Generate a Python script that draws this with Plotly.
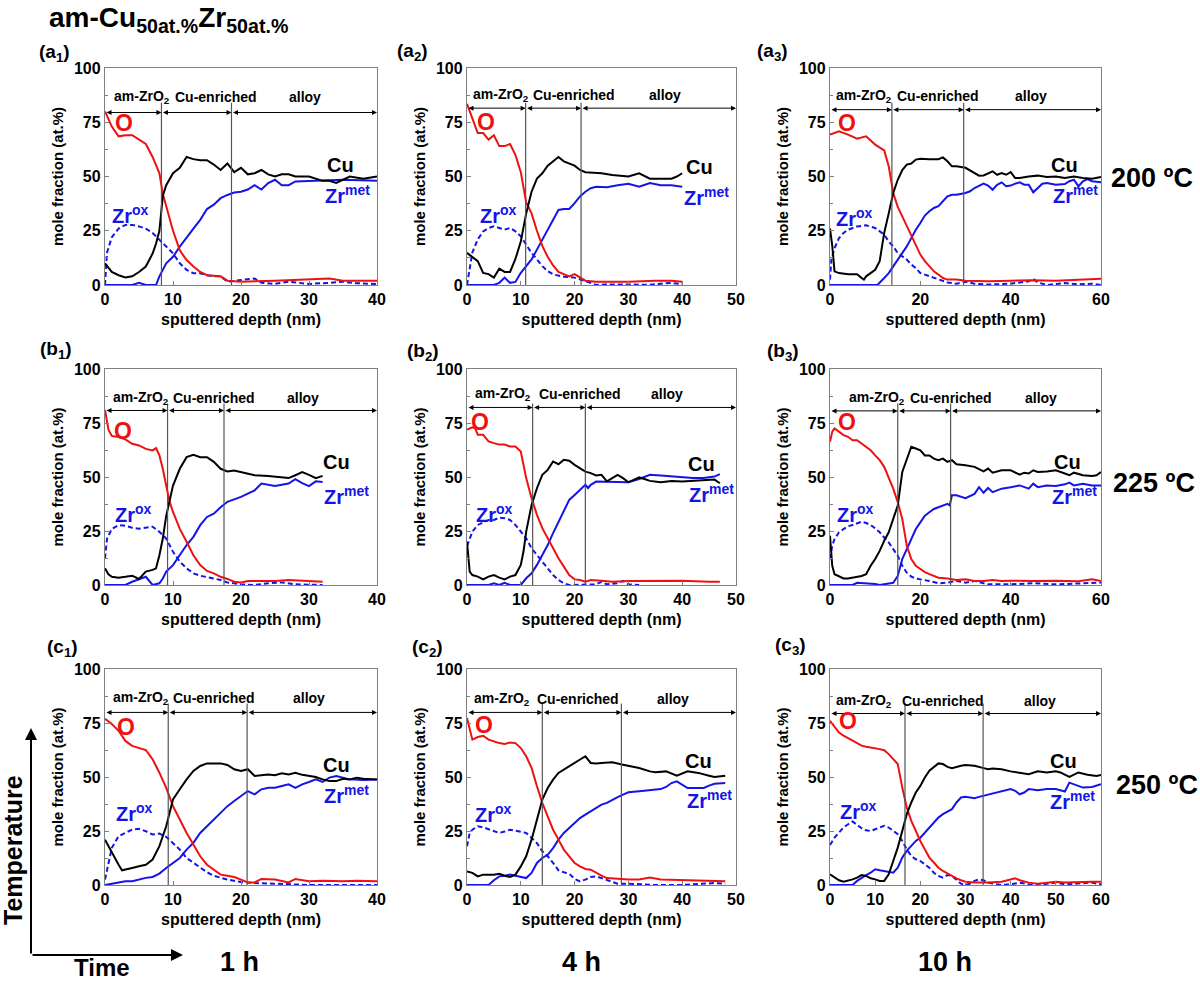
import plotly.graph_objects as go

# ---------------- DATA ----------------
# Panel a1 (200 C, 1 h)
A1_O_X = [0,1,2,3,4,5,6,7,8,8.5,9,10,11,12,13,14,15,17,18,20,25,30,33,35,40]
A1_O_Y = [80,73,68.5,69,69,67,65,59,51.5,42,36,25,16,11.5,8.5,6,4.5,4,2,1.5,2,2.5,3,2,2]
A1_CU_X = [0,1,2,3,4,5,6,7,7.5,8,8.5,9,10,11,12,13,14,15,16,17,18,19,20,21,22,23,24,25,26,27,28,30,32,33,34,35,36,38,40]
A1_CU_Y = [10,6,4.5,3.5,4,6,8.5,14.5,19,25,41,46,51.5,54,59,58,57.5,57.5,55.5,53,56,52,54,51,51.5,53,51,50,51,51,50,50,48,48,47,48.5,50,49,50]
A1_ZM_X = [0,4,5,6,7.5,8,9,10,11,12,13,14,15,16,17,18,19,20,21,22,23,24,25,26,27,28,30,35,40]
A1_ZM_Y = [0,0,1,0,0,4,10,13,17.7,22,26,30,35,37,40,41.5,42.6,43,44,46,44,47,48.5,46,46,47.7,48,48.5,48]
A1_ZO_X = [0,0.3,1,2,3,4,5,6,7,8,9,10,11,12,13,14,15,16,17,18,20,22,23,25,27,30,33,35,37,40]
A1_ZO_Y = [0,15,22,26,27.7,27.7,27,26,24,21,17.7,14.6,10,7,5.4,5.4,4.5,4,4,1.5,2.3,3,1,0.5,1.5,0.5,1,1.5,0.8,0.5]
A1_BOUNDS = [8.3, 18.6]

# Panel a2 (200 C, 4 h)
A2_O_X = [0,1,2,3,4,5,6,7,8,9,10,11,12,13,14,15,16,17,18,19,20,21,22,24,30,35,38,40]
A2_O_Y = [83.5,76.6,70,70,67,69,64,64,65,60,52,38,33,25,18,13,9,6,5,4,5,3.5,2,1.5,1.5,2,2,1.5]
A2_CU_X = [0,1,2,3,4,5,6,7,8,9,10,11,12,13,14,15,16,17,18,19,20,21,22,25,27,30,32,34,38,39,40]
A2_CU_Y = [14.8,13,11,5.6,5,3.4,7.5,6,6,12,20,33,43,49,51.5,55,57,59,57,56,55,53,52,51.5,50.7,50,51.5,49,49,50,51.5]
A2_ZM_X = [0,5,6,7,8,9,10,11,12,13,14,15,16,17,18,19,20,21,22,23,24,26,28,30,32,34,36,38,40]
A2_ZM_Y = [0,0,1,3.4,1,1.4,5.6,8.7,11.8,16.3,21,25.5,30,34.6,35,35,37.7,40.8,43,44.6,45.3,45,46,46.6,45.3,47,46,46,45.3]
A2_ZO_X = [0,0.5,1,2,3,4,5,6,7,8,9,10,11,12,13,14,15,16,18,20,22,24,26,30,34,38,40]
A2_ZO_Y = [0,8.7,15,21,24.7,26.3,27,26.3,25.5,26.3,24.7,22.4,18.6,14.8,11.8,8.7,6.4,4.9,3.8,3.4,1.8,0,0.3,0.3,0.1,1,0.3]
A2_BOUNDS = [10.9, 21.2]

# Panel a3 (200 C, 10 h)
A3_O_X = [0,2,4,6,8,10,12,13,14,15,16,17,18,19,20,21,22,23,24,25,26,28,30,35,40,45,50,55,60]
A3_O_Y = [69.3,70.8,69.3,67.4,68.5,64.7,62,54.7,42.4,36,31.6,27,22.4,17.8,14,11,8.6,6.3,4.8,3.2,2.5,2.5,2,1.7,2,2.2,2,2.5,2.9]
A3_CU_X = [0,0.5,1,2,4,6,7,7.5,8,10,11,12,13,14,15,16,17,18,19,20,22,24,25,26,27,28,30,32,33,34,35,36,37,38,39,40,41,42,44,46,48,50,52,54,56,58,60]
A3_CU_Y = [26,18,6.3,5.5,5,5,3.2,2.5,4,7,11,24,33,42.4,48.5,53,55.5,56,57.8,58.2,58,58,58.8,57,54.7,54.7,54,51.6,50.4,50.5,51.6,52.4,50.8,51.6,50.8,52,49.3,49.3,50,50.4,49.8,50,49.3,50,49.3,49,49.8]
A3_ZM_X = [0,10.5,12,13,14,15,16,17,18,19,20,21,22,23,24,25,26,27,28,30,31,32,33,34,35,36,37,38,39,40,41,42,43,44,45,46,47,48,50,52,53,54,55,56,57,58,60]
A3_ZM_Y = [0,0,3.2,5.5,8.6,11.7,14.7,17.8,21.6,25.5,28.6,32,34,35.5,36.3,38.5,40.9,41.6,41.6,42.4,43.2,44.7,45.8,46.7,45.8,43.9,46.2,47.3,45.5,45.8,46.7,47.3,46.2,46.2,42.7,44.7,46.7,47,46.2,46.5,47.8,48.5,45.5,47.8,48.8,47.8,47.3]
A3_ZO_X = [0,0.3,1,2,3,4,6,8,10,11,12,13,14,15,16,17,18,19,20,22,24,26,28,30,32,35,40,44,45,46,48,50,52,55,58,60]
A3_ZO_Y = [2.5,11.7,17,21.6,24,25.5,27,27.5,26.3,24.7,23.2,20,17.8,14.7,13.2,11.7,9.4,7.8,5.5,4,2.5,1.2,0.6,1.5,0.6,0.2,0.6,1.7,2.8,1.2,0,0.6,0.9,0.3,0.6,0]
A3_BOUNDS = [13.7, 29.6]

# Panel b1 (225 C, 1 h)
B1_O_X = [0,0.5,1,2,3,4,5,6,7,7.5,8,8.5,9,9.5,10,11,12,13,14,15,16,17,18,19,20,21,23,25,27,28,30,32]
B1_O_Y = [81,72,69,68.5,67.4,65.4,64.6,63,62.3,63.4,60,53.8,46,38.5,33.8,26,20,13.8,9.2,6.5,5.4,3.8,2.8,1.5,1.2,1.8,1.8,1.8,2.3,2.2,1.8,1.5]
B1_CU_X = [0,0.5,1,2,3,4,5,5.5,6,7,7.5,8,8.5,9,9.5,10,11,12,13,14,15,16,17,18,19,20,22,24,26,27,28,29,30,31,32]
B1_CU_Y = [7.7,5,3.8,3.4,3.8,4.3,2.8,4.6,6.2,7,7.7,13.8,21.5,32,38.5,46,53.8,59.2,60.3,59.2,59.2,57,53.8,52.6,53,52.3,50.8,50.5,50,49.5,50.8,52.3,51,49.5,50.5]
B1_ZM_X = [0,3,4,5,6,7,8,8.5,9,10,11,12,13,14,15,16,17,18,20,22,23,25,27,28,29,30,31,32]
B1_ZM_Y = [0,0,1.5,2.8,3.8,0,0.8,3,6.2,9.2,13.8,18.5,22.3,27.7,31.5,33,36,38.5,40.8,43.8,47,45.8,47,49,47.2,45.8,48,47.7]
B1_ZO_X = [0,0.3,1,2,3,4,5,6,7,8,9,10,11,12,13,14,15,16,17,18,20,22,24,26,28,30,32]
B1_ZO_Y = [12.3,21.5,26,27.7,27.4,26.5,26,26.5,27,24.6,21.5,15.4,10.8,7.7,5.4,4.3,3.8,3,2.3,1.2,0.3,0,0.8,1.2,0.3,0,0]
B1_BOUNDS = [9.2, 17.5]

# Panel b2 (225 C, 4 h)
B2_O_X = [0,1,1.5,2,3,4,5,6,7,8,9,10,10.5,11,12,13,14,15,16,17,18,19,20,21,22,23,25,27,30,35,40,45,47]
B2_O_Y = [71.9,73,72.6,69.6,69.6,66.5,65.7,65,65,64.1,64.1,61.8,55.6,49.5,40.2,32.5,26.3,21.6,17,12.4,8.5,4.6,2.6,2.3,1.5,2.3,2,1.5,1.9,1.9,2,1.5,1.5]
B2_CU_X = [0,0.5,1,2,3,4,5,6,7,8,9,10,10.5,11,12,13,14,15,16,17,18,19,20,21,22,23,24,25,26,27,28,29,30,31,32,33,34,36,38,40,42,44,46,47]
B2_CU_Y = [20,6.2,4.6,3.9,2.6,3.9,4.6,3.4,2.6,3.9,4.6,9.3,15.5,24.7,37,44.8,51,53.3,57.2,55.9,58,57.5,55.6,54,52.5,51.8,50.7,51,48,49.5,51,49.5,47.6,48.7,49.8,49.1,48.2,47.6,48.2,47.9,48.2,48.7,48.8,47.1]
B2_ZM_X = [0,4,5,6,7,8,10,11,12,13,14,15,16,17,18,19,20,21,22,22.5,23,24,26,28,30,32,34,36,38,40,42,44,46,47]
B2_ZM_Y = [0,0,0.8,0,1,0,0,3.1,5.4,9.3,13.9,18.5,24,29.4,34,39.4,41.7,44,46.4,44.8,46.4,47.9,47.9,47.9,47.6,49.1,51,50.7,50.2,49.9,49.5,49.5,50.2,51.3]
B2_ZO_X = [0,0.5,1,2,3,4,5,6,7,8,9,10,11,12,13,14,15,16,17,18,19,22,24,25,26,28,29,30,32]
B2_ZO_Y = [18,21.6,24.7,27.8,29,30.1,30.1,31.2,30.9,30.1,27.8,24.7,21.6,17,13.9,10.8,7.7,4.6,2.3,0.8,0,0,0.3,1.5,0.3,0.8,1.9,0.3,0]
B2_BOUNDS = [12.2, 22.0]

# Panel b3 (225 C, 10 h)
B3_O_X = [0,0.5,1,2,3,4,5,6,7,8,9,10,11,12,13,14,15,16,17,18,19,20,21,22,24,26,28,30,32,34,36,38,40,45,50,55,58,60]
B3_O_Y = [66.3,71,72.5,71,69.4,68.6,67,67,65.5,64,62.4,60,57.8,54.7,50,44.6,38.4,30.6,18.2,12,8.9,7.3,6,5,3.4,3,2.3,2.6,1.9,1.9,2.3,1.9,2,1.9,2,1.7,2.6,1.9]
B3_CU_X = [0,0.5,1,2,3,4,5,6,7,8,9,10,11,12,13,14,15,16,17,18,19,20,21,22,23,24,25,26,27,28,30,32,34,35,36,38,40,42,43,44,45,46,48,50,52,53,54,56,58,59,60]
B3_CU_Y = [22.8,8.9,5,3.9,3,3,3.4,3.9,4.2,5,8.9,12,15.8,20.5,24.4,30.6,36.8,52.3,58.5,64,63.2,62.4,60,60,58.5,57.8,58.5,57,57.8,55.9,55.4,54.7,52.6,53.9,52,53.1,53.1,51.1,52,51.6,53.1,52.3,52.6,53.1,51.6,50.8,52,50.8,50.5,50.8,52.3]
B3_ZM_X = [0,5,6,10,11,14,15,16,17,18,19,20,21,22,23,24,25,26,26.5,27,28,30,32,33,34,35,36,38,40,42,44,45,46,48,50,52,53,54,56,58,60]
B3_ZM_Y = [0,0,1,0.5,0,1,4.2,12,16.6,21.3,25.9,29,32.1,33.7,35.2,36,36.8,37.6,36.8,41.5,41.5,40.2,42.2,45.3,42.7,44.9,43,44.6,45.3,46.1,44.6,46.9,45.3,46.1,45.8,46.6,47.4,46.1,46.9,46.1,46.1]
B3_ZO_X = [0,0.5,1,2,3,4,5,6,7,8,9,10,11,12,13,14,15,16,17,18,19,20,22,24,26,28,30,32,35,40,45,50,55,60]
B3_ZO_Y = [12,18.2,21.3,24.4,25.9,27.2,27.8,28.7,29.3,28.7,27.8,26.2,24.4,22,19.7,16.6,13.5,8.9,5.7,3.9,3,2.6,1.9,0.8,1.1,1.9,1.1,1.9,0.3,0.3,0.8,0.3,0.6,1.1]
B3_BOUNDS = [15.0, 26.7]

# Panel c1 (250 C, 1 h)
C1_O_X = [0,1,2,3,4,5,6,7,8,9,10,11,12,13,14,15,16,17,18,19,20,21,22,23,25,27,28,30,32,35,37,40]
C1_O_Y = [77,74.5,71.4,66.7,64.4,63.6,62.5,58.2,52,45,36.5,30.3,24.1,18.7,13.3,9.4,7.1,4.8,4.3,3.7,2.5,1.2,1.2,2.8,2.5,1.2,2.8,1.7,2,1.7,2,1.7]
C1_CU_X = [0,1,2,2.5,3,4,5,6,7,8,9,9.5,10,11,12,13,14,15,17,18,19,20,21,22,23,24,25,26,27,28,29,30,31,32,33,34,35,36,37,38,40]
C1_CU_Y = [21,14.9,9.4,6.8,7.1,7.9,8.7,9.4,11.8,18,27.2,33.4,39.6,44.3,48.9,52.8,55.1,56.3,56.3,55.6,53.6,52.8,53.6,50.5,50.8,51.2,50.8,51.7,51.2,52,51,50.5,50,48.9,48.1,48.1,49.2,48.9,49.7,49.2,48.9]
C1_ZM_X = [0,1,2,3,4,5,6,7,8,9,10,11,12,13,14,15,16,17,18,19,20,21,22,23,24,25,26,27,28,29,30,31,32,33,34,35,36,38,40]
C1_ZM_Y = [0,0.6,1.2,1.7,1.7,2.5,3.3,3.7,5.3,7.9,10.2,12.5,16.4,19.5,24.1,27.2,30.3,33.4,36.5,38.9,41.2,43.5,42,44.3,45,45,45.8,46.6,45,46.6,47.7,48.9,47.7,49.7,50.5,49.7,48.9,48.6,48.9]
C1_ZO_X = [0,0.5,1,2,3,4,5,6,7,8,9,10,11,12,13,14,15,16,17,18,20,22,25,28,30,40]
C1_ZO_Y = [2.5,10.2,17.2,22.6,24.1,25.7,26,24.9,23.4,23.8,22.3,19.5,16.4,12.5,10.2,7.9,5.9,4.3,3.3,2.5,1.4,0.9,0.6,0.2,0,0]
C1_BOUNDS = [9.3, 20.9]

# Panel c2 (250 C, 4 h)
C2_O_X = [0,1,2,3,4,5,6,7,8,9,10,11,12,13,14,15,16,17,18,19,20,21,22,23,24,25,26,28,30,32,34,36,40,44,48]
C2_O_Y = [77.3,67.3,68.5,69.1,67.3,66.5,65.7,65.3,66,65.7,63.4,59.6,54.2,45.7,38,31.8,25.6,21,16.4,13.3,10.2,8.6,7.4,7.1,5.6,4.3,3.2,2.8,2.5,2.5,3.5,2.5,2.2,2,1.7]
C2_CU_X = [0,1,2,3,5,6,7,8,9,10,11,12,13,14,15,16,17,18,19,20,21,22,23,24,25,27,29,30,32,34,35,37,39,41,43,45,46,48]
C2_CU_Y = [6.3,5.6,4,4.8,4.8,5.2,4.3,3.7,4.8,8.6,13.3,21,30.2,39.5,44.9,48.8,51.9,53.4,54.9,56.5,58,59.6,56.5,56.2,56.5,56.8,55.7,55.2,54.2,52.6,52.2,52.6,50.6,52.6,51.9,50.6,50,50.6]
C2_ZM_X = [0,4,5,6,7,8,9,10,11,12,13,14,15,16,17,18,19,20,21,22,23,24,25,26,27,28,29,30,32,34,36,37,38,39,40,41,42,44,45,46,48]
C2_ZM_Y = [0,0,2.2,4,4.3,4.8,4.3,3.7,3.2,5.6,10.2,12.5,14,17.1,21,24.1,26.4,28.7,31,32.6,34.1,35.6,37.2,38,39.5,40.7,41.8,42.9,43.4,43.8,44.4,45.4,47.2,48,46.5,44.9,44.9,44.9,46,46.9,47.2]
C2_ZO_X = [0,0.5,1,2,3,4,5,6,7,8,9,10,11,12,13,14,15,16,17,18,19,20,21,22,23,24,25,26,28,30,32,35,40,46,48]
C2_ZO_Y = [17.9,24.1,25.6,27.2,26.7,25.9,24.8,24.1,24.8,25.6,25.2,24.8,24.1,21.8,19.4,15.6,13.3,10.2,6.8,5.9,5.2,2.8,1.7,2.5,3.7,4,3.2,2.5,0.6,0.6,0.3,0,0,0.9,0.6]
C2_BOUNDS = [14.0, 28.7]

# Panel c3 (250 C, 10 h)
C3_O_X = [0,1,2,3,4,5,6,7,8,9,10,11,12,13,14,15,16,17,18,19,20,21,22,23,24,25,26,27,28,29,30,32,35,38,40,41,42,44,46,48,50,52,55,58,60]
C3_O_Y = [76,73,70.6,69.1,68,66.8,65.5,64.5,64,63.7,63.4,62.9,62.4,60.6,58.3,56,45.1,35.9,29.7,25,20.4,16.5,12.7,10.4,8,6.5,5.3,4.2,3.1,2.2,1.5,1.1,1.1,1.5,2.6,3.1,2.2,1.1,0.6,1.1,1.5,1.1,1.4,1.5,1.5]
C3_CU_X = [0,1,2,3,4,5,6,7,8,9,10,11,12,13,14,15,16,17,18,19,20,21,22,23,24,25,26,27,28,29,30,32,34,35,36,38,40,42,44,46,48,50,51,53,55,57,59,60]
C3_CU_Y = [4.9,3.7,2.2,1.5,1.9,2.6,3.4,4.6,4.2,3.1,2.6,1.9,1.9,4.9,11.1,17.3,25,32.8,38.2,42.8,45.9,49.8,52.9,54.4,56.3,56,54.7,54.1,54.7,55.2,55.5,55.2,54.1,53.6,53.9,53.6,52.6,52.1,51.3,52.6,52.1,52.6,52.1,50.1,52.1,51,50.5,50.9]
C3_ZM_X = [0,5,6,7,8,9,10,11,12,13,14,15,16,17,18,19,20,21,22,23,24,25,26,27,28,29,30,31,32,33,34,35,36,38,40,41,42,43,44,46,48,50,52,53,54,56,58,60]
C3_ZM_Y = [0,0,1.9,3.4,4.6,5.7,7.3,6.8,6.5,6.2,5.7,8,12.7,15.8,18.1,20.4,21.9,24.3,26.6,28.9,31.2,32.8,34,35.1,38.2,40.5,40.8,40.5,40.2,40.8,41.3,42,42.3,43.3,44.4,43.6,42,42.8,44.4,43.9,44.4,44.4,43.3,47.4,46.7,45.1,45.4,46.7]
C3_ZO_X = [0,1,2,3,4,5,6,7,8,9,10,11,12,13,14,15,16,17,18,19,20,21,22,23,24,25,26,27,28,29,30,31,32,33,34,35,37,38,40,42,44,46,48,50,52,55,58,60]
C3_ZO_Y = [18.5,21.9,24.3,26.6,28.1,29.4,27.8,26.3,25.3,25,25.8,26.6,27.4,26.6,25,23.5,20.4,16.5,13.4,11.9,11.1,9.6,8,5.7,4.2,3.4,4.6,4.2,2.6,0.6,0,0.6,1.9,2.6,2.2,1.1,0.3,0,0.3,1.1,0.3,0,0.6,1.1,0.3,0.6,1.1,0.3]
C3_BOUNDS = [16.6, 33.9]

X_MAX = [40, 50, 60, 40, 50, 60, 40, 50, 60]
X_DTICK = [10, 10, 20, 10, 10, 20, 10, 10, 10]
PANEL_LABELS = ["(a<sub>1</sub>)", "(a<sub>2</sub>)", "(a<sub>3</sub>)",
                "(b<sub>1</sub>)", "(b<sub>2</sub>)", "(b<sub>3</sub>)",
                "(c<sub>1</sub>)", "(c<sub>2</sub>)", "(c<sub>3</sub>)"]
TEMPS = ["200 ºC", "225 ºC", "250 ºC"]
TIMES = ["1 h", "4 h", "10 h"]
REGIONS = ["am-ZrO<sub>2</sub>", "Cu-enriched", "alloy"]

# ---------------- LAYOUT HELPERS ----------------
W, H = 1200, 982
COLS_PX = [(105, 377), (467, 736), (830, 1101)]
ROWS_PX = [(68, 285), (369, 585), (669, 885)]

STYLE = [
    dict(rt=[5.5, 16.3, 29.4], ry=86.5, ay=79.5, O=(2.8, 74.6), Cu=(34.7, 55.4), Zm=(35.7, 41.5), Zo=(3.8, 32.3)),
    dict(rt=[6.4, 19.9, 36.8], ry=87.6, ay=81.5, O=(3.6, 75), Cu=(43.2, 54.5), Zm=(44.6, 40.8), Zo=(5.8, 32.4)),
    dict(rt=[7.5, 24.0, 44.5], ry=87.0, ay=80.8, O=(3.7, 74.6), Cu=(52.0, 55.4), Zm=(54.3, 41.6), Zo=(5.5, 30.9)),
    dict(rt=[5.3, 16.0, 29.1], ry=86.5, ay=80.8, O=(2.7, 71.5), Cu=(34.0, 57.0), Zm=(35.5, 41.5), Zo=(4.2, 33.0)),
    dict(rt=[6.7, 21.0, 37.1], ry=88.4, ay=82.2, O=(2.5, 75.4), Cu=(43.6, 56.0), Zm=(45.5, 42.5), Zo=(5.1, 33.2)),
    dict(rt=[10.4, 26.7, 46.7], ry=86.8, ay=80.6, O=(3.7, 75.3), Cu=(52.6, 56.9), Zm=(54.1, 41.3), Zo=(5.6, 32.9)),
    dict(rt=[5.3, 16.1, 30.0], ry=86.4, ay=79.9, O=(3.1, 73.0), Cu=(34.0, 55.6), Zm=(35.5, 42.0), Zo=(4.4, 33.4)),
    dict(rt=[6.5, 20.6, 38.2], ry=86.1, ay=79.9, O=(3.1, 74.2), Cu=(43.1, 57.5), Zm=(45.0, 39.5), Zo=(4.9, 33.3)),
    dict(rt=[7.6, 25.0, 46.6], ry=85.0, ay=79.4, O=(4.0, 76.0), Cu=(51.6, 57.5), Zm=(53.6, 39.0), Zo=(6.4, 34.3)),
]
LABEL_PX = [(55, 53), (412, 52), (772, 52), (56, 350), (423, 352), (783, 352), (62, 648), (427, 648), (790, 646)]

PANELS = [
    (A1_O_X, A1_O_Y, A1_CU_X, A1_CU_Y, A1_ZM_X, A1_ZM_Y, A1_ZO_X, A1_ZO_Y, A1_BOUNDS),
    (A2_O_X, A2_O_Y, A2_CU_X, A2_CU_Y, A2_ZM_X, A2_ZM_Y, A2_ZO_X, A2_ZO_Y, A2_BOUNDS),
    (A3_O_X, A3_O_Y, A3_CU_X, A3_CU_Y, A3_ZM_X, A3_ZM_Y, A3_ZO_X, A3_ZO_Y, A3_BOUNDS),
    (B1_O_X, B1_O_Y, B1_CU_X, B1_CU_Y, B1_ZM_X, B1_ZM_Y, B1_ZO_X, B1_ZO_Y, B1_BOUNDS),
    (B2_O_X, B2_O_Y, B2_CU_X, B2_CU_Y, B2_ZM_X, B2_ZM_Y, B2_ZO_X, B2_ZO_Y, B2_BOUNDS),
    (B3_O_X, B3_O_Y, B3_CU_X, B3_CU_Y, B3_ZM_X, B3_ZM_Y, B3_ZO_X, B3_ZO_Y, B3_BOUNDS),
    (C1_O_X, C1_O_Y, C1_CU_X, C1_CU_Y, C1_ZM_X, C1_ZM_Y, C1_ZO_X, C1_ZO_Y, C1_BOUNDS),
    (C2_O_X, C2_O_Y, C2_CU_X, C2_CU_Y, C2_ZM_X, C2_ZM_Y, C2_ZO_X, C2_ZO_Y, C2_BOUNDS),
    (C3_O_X, C3_O_Y, C3_CU_X, C3_CU_Y, C3_ZM_X, C3_ZM_Y, C3_ZO_X, C3_ZO_Y, C3_BOUNDS),
]

FONT = "Liberation Sans, Arial, sans-serif"
RED, BLUE, BLACK, FRAME = "#ee1111", "#1414e6", "#000000", "#808080"


def px2paper(x, y):
    return x / W, 1 - y / H


def ptext(px, py, text, size, **kw):
    x, y = px2paper(px, py)
    d = dict(x=x, y=y, xref="paper", yref="paper", text=text, showarrow=False,
             xanchor="center", yanchor="middle",
             font=dict(family=FONT, size=size, color="black", weight="bold"))
    d.update(kw)
    return d


fig = go.Figure()
annotations = []
shapes = []
layout_axes = {}

for i, p in enumerate(PANELS):
    ox, oy, cx, cy, zmx, zmy, zox, zoy, bounds = p
    n = i + 1
    xa = "x" if n == 1 else f"x{n}"
    ya = "y" if n == 1 else f"y{n}"
    r, c = divmod(i, 3)
    x0p, x1p = COLS_PX[c]
    y0p, y1p = ROWS_PX[r]
    dom_x = [x0p / W, x1p / W]
    dom_y = [1 - y1p / H, 1 - y0p / H]
    xmax = X_MAX[i]

    layout_axes["xaxis" if n == 1 else f"xaxis{n}"] = dict(
        domain=dom_x, anchor=ya, range=[0, xmax], dtick=X_DTICK[i], tick0=0,
        showline=True, linecolor=FRAME, linewidth=1.3, mirror=True,
        ticks="inside", ticklen=4, tickcolor=FRAME, showgrid=False, zeroline=False,
        tickfont=dict(family=FONT, size=16, color="black", weight="bold"),
        title=dict(text="sputtered depth (nm)", standoff=6,
                   font=dict(family=FONT, size=16, color="black", weight="bold")),
        automargin=False,
    )
    layout_axes["yaxis" if n == 1 else f"yaxis{n}"] = dict(
        domain=dom_y, anchor=xa, range=[0, 100], dtick=25, tick0=0,
        showline=True, linecolor=FRAME, linewidth=1.3, mirror=True,
        ticks="inside", ticklen=4, tickcolor=FRAME, showgrid=False, zeroline=False,
        minor=dict(ticks="inside", ticklen=3, dtick=12.5, tickcolor=FRAME),
        tickfont=dict(family=FONT, size=16, color="black", weight="bold"),
        title=dict(text="mole fraction (at.%)", standoff=6,
                   font=dict(family=FONT, size=15, color="black", weight="bold")),
        automargin=False,
    )

    fig.add_trace(go.Scatter(x=zox, y=zoy, mode="lines", xaxis=xa, yaxis=ya,
                             line=dict(color=BLUE, width=2, dash="5px,3px"), showlegend=False))
    fig.add_trace(go.Scatter(x=zmx, y=zmy, mode="lines", xaxis=xa, yaxis=ya,
                             line=dict(color=BLUE, width=2), showlegend=False))
    fig.add_trace(go.Scatter(x=ox, y=oy, mode="lines", xaxis=xa, yaxis=ya,
                             line=dict(color=RED, width=2), showlegend=False))
    fig.add_trace(go.Scatter(x=cx, y=cy, mode="lines", xaxis=xa, yaxis=ya,
                             line=dict(color=BLACK, width=2), showlegend=False))

    st = STYLE[i]
    for b in bounds:
        shapes.append(dict(type="line", xref=xa, yref=ya, x0=b, x1=b, y0=0, y1=84,
                           line=dict(color="#555555", width=1.2)))
    edges = [0] + list(bounds) + [xmax]
    for k in range(3):
        annotations.append(dict(x=edges[k + 1], y=st["ay"], ax=edges[k], ay=st["ay"],
                                xref=xa, yref=ya, axref=xa, ayref=ya, text="",
                                showarrow=True, arrowhead=2, arrowside="end+start",
                                arrowsize=1.0, arrowwidth=1, arrowcolor="black"))
        annotations.append(dict(x=st["rt"][k], y=st["ry"], xref=xa, yref=ya, text=REGIONS[k],
                                showarrow=False, xanchor="center", yanchor="middle",
                                font=dict(family=FONT, size=14, color="black", weight="bold")))
    big = dict(family=FONT, size=20, weight="bold")
    for key, txt, col, sz in [("O", "O", RED, 23), ("Cu", "Cu", BLACK, 20),
                              ("Zm", "Zr<sup>met</sup>", BLUE, 20), ("Zo", "Zr<sup>ox</sup>", BLUE, 20)]:
        annotations.append(dict(x=st[key][0], y=st[key][1], xref=xa, yref=ya, text=txt,
                                showarrow=False, xanchor="center", yanchor="middle",
                                font=dict(big, color=col, size=sz)))
    annotations.append(ptext(LABEL_PX[i][0], LABEL_PX[i][1], PANEL_LABELS[i], 19))

for t, (tx, ty) in zip(TEMPS, [(1152, 178), (1154, 483), (1157, 785)]):
    annotations.append(ptext(tx, ty, t, 27))
for t, (tx, ty) in zip(TIMES, [(239, 962), (581, 962), (945, 962)]):
    annotations.append(ptext(tx, ty, t, 27))

annotations.append(ptext(47, 20, "am-Cu<sub>50at.%</sub>Zr<sub>50at.%</sub>", 28, xanchor="left"))

# Temperature / Time axes arrows
x, y = px2paper(31, 728)
annotations.append(dict(x=x, y=y, xref="paper", yref="paper", ax=0, ay=227, axref="pixel", ayref="pixel",
                        text="", showarrow=True, arrowhead=2, arrowsize=1.2, arrowwidth=2, arrowcolor="black"))
x, y = px2paper(183, 955)
annotations.append(dict(x=x, y=y, xref="paper", yref="paper", ax=-152, ay=0, axref="pixel", ayref="pixel",
                        text="", showarrow=True, arrowhead=2, arrowsize=1.2, arrowwidth=2, arrowcolor="black"))
annotations.append(ptext(13, 850, "Temperature", 25, textangle=-90))
annotations.append(ptext(102, 967, "Time", 24))

fig.update_layout(
    width=W, height=H, margin=dict(l=0, r=0, t=0, b=0),
    paper_bgcolor="white", plot_bgcolor="white",
    font=dict(family=FONT, color="black"),
    showlegend=False, annotations=annotations, shapes=shapes,
    **layout_axes,
)

fig.write_html("out.html")
